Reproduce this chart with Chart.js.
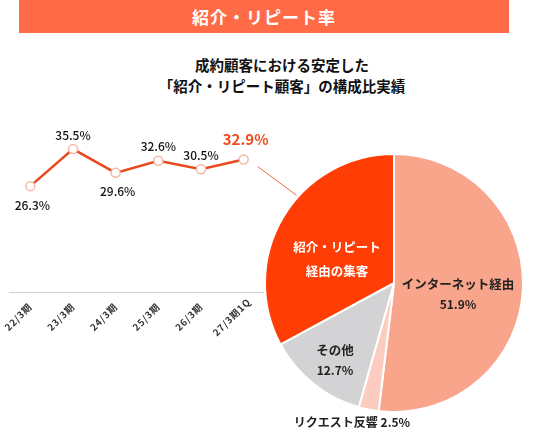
<!DOCTYPE html>
<html lang="ja">
<head>
<meta charset="utf-8">
<script src="https://cdn.jsdelivr.net/npm/chart.js@4"></script>
<style>
  html, body { margin: 0; padding: 0; background: #fff; }
  body { width: 536px; height: 432px; position: relative; overflow: hidden; font-family: "Noto Sans CJK JP", "Noto Sans", sans-serif; }
  .banner { position: absolute; left: 19px; top: 0; width: 490px; height: 33px; background: #ff6b47; color: #fff; font-weight: 700; font-size: 17px; line-height: 33px; text-align: center; letter-spacing: 1px; }
  .sub { position: absolute; left: 157px; top: 54px; width: 250px; text-align: center; font-weight: 700; font-size: 14.5px; line-height: 21px; color: #111; }
  canvas { position: absolute; left: 0; top: 0; }
</style>
</head>
<body>
<div class="banner">紹介・リピート率</div>
<div class="sub">成約顧客における安定した<br>「紹介・リピート顧客」の構成比実績</div>
<canvas id="lineChart" width="536" height="432"></canvas>
<canvas id="pieChart" width="536" height="432"></canvas>
<script>
// data
const periods = ["22/3期", "23/3期", "24/3期", "25/3期", "26/3期", "27/3期1Q"];
const rates = [26.3, 35.5, 29.6, 32.6, 30.5, 32.9];
const labelBelow = [true, false, true, false, false, false];

const shareLabels = ["インターネット経由", "リクエスト反響", "その他", "紹介・リピート経由の集客"];
const shares = [51.9, 2.5, 12.7, 32.9];
const shareColors = ["#f9a58c", "#fbccbf", "#d3d3d5", "#ff3d05"];

const FONT = '"Noto Sans CJK JP", "Noto Sans", sans-serif';
let lineChart;

// value labels on the line + slanted period labels under the axis
const pointLabels = {
  id: "pointLabels",
  afterDatasetsDraw(chart) {
    const { ctx } = chart;
    const meta = chart.getDatasetMeta(0);
    ctx.save();
    ctx.textAlign = "center";
    meta.data.forEach((pt, i) => {
      const last = i === rates.length - 1;
      ctx.fillStyle = last ? "#ef4a1f" : "#111";
      ctx.font = (last ? "700 15px " : "500 12px ") + FONT;
      const txt = rates[i].toFixed(1) + "%";
      if (labelBelow[i]) {
        ctx.textBaseline = "top";
        ctx.fillText(txt, pt.x + 2, pt.y + 13);
      } else {
        ctx.textBaseline = "bottom";
        ctx.fillText(txt, pt.x + (last ? 2 : 0), pt.y - (last ? 13 : 8));
      }
    });
    ctx.restore();
  },
  afterDraw(chart) {
    const { ctx } = chart;
    const xs = chart.scales.x;
    ctx.save();
    ctx.fillStyle = "#333";
    ctx.font = "700 9.5px " + FONT;
    ctx.letterSpacing = "0.8px";
    ctx.textAlign = "center";
    ctx.textBaseline = "middle";
    periods.forEach((p, i) => {
      const x = xs.getPixelForTick(i);
      ctx.save();
      ctx.translate(x - 12, xs.top + 25);
      ctx.rotate(-Math.PI / 4);
      ctx.fillText(p, 0, 0);
      ctx.restore();
    });
    ctx.restore();
  }
};

lineChart = new Chart(document.getElementById("lineChart"), {
  type: "line",
  data: {
    labels: periods,
    datasets: [{
      data: rates,
      borderColor: "#e8491d",
      borderWidth: 2.5,
      pointRadius: 4.5,
      pointBackgroundColor: "#fff",
      pointBorderColor: "#f6b7a8",
      pointBorderWidth: 1.5,
      tension: 0
    }]
  },
  options: {
    responsive: false,
    animation: false,
    layout: { padding: { left: 9, right: 271, top: 131, bottom: 95 } },
    plugins: { legend: { display: false }, tooltip: { enabled: false } },
    scales: {
      y: { display: false, min: 0, max: 40 },
      x: {
        offset: true,
        grid: { display: false },
        border: { display: true, color: "#cfcfcf", width: 1 },
        afterFit: (scale) => { scale.height = 45; },
        ticks: { display: false }
      }
    }
  },
  plugins: [pointLabels]
});

// labels inside / around the pie and the leader line from the last point
const pieDecor = {
  id: "pieDecor",
  beforeDatasetsDraw(chart) {
    const { ctx } = chart;
    const arc = chart.getDatasetMeta(0).data[3];
    const pt = lineChart.getDatasetMeta(0).data[rates.length - 1];
    const ang = -138 * Math.PI / 180;
    ctx.save();
    ctx.strokeStyle = "#ef6a45";
    ctx.lineWidth = 1;
    ctx.beginPath();
    ctx.moveTo(pt.x + 14, pt.y + 7);
    ctx.lineTo(arc.x + Math.cos(ang) * (arc.outerRadius + 2), arc.y + Math.sin(ang) * (arc.outerRadius + 2));
    ctx.stroke();
    ctx.restore();
  },
  afterDatasetsDraw(chart) {
    const { ctx } = chart;
    const arcs = chart.getDatasetMeta(0).data;
    const cx = arcs[0].x, cy = arcs[0].y;
    ctx.save();
    ctx.textAlign = "center";
    ctx.textBaseline = "middle";
    ctx.font = "700 12.5px " + FONT;
    // インターネット経由
    ctx.fillStyle = "#222";
    ctx.fillText(shareLabels[0], cx + 64, cy + 1);
    ctx.font = "700 12px " + FONT;
    ctx.fillText(shares[0].toFixed(1) + "%", cx + 64, cy + 21);
    // 紹介・リピート
    ctx.fillStyle = "#fff";
    ctx.font = "700 12.5px " + FONT;
    ctx.fillText("紹介・リピート", cx - 57, cy - 36);
    ctx.fillText("経由の集客", cx - 57, cy - 12);
    // その他
    ctx.fillStyle = "#222";
    ctx.fillText(shareLabels[2], cx - 59, cy + 67);
    ctx.font = "700 12px " + FONT;
    ctx.fillText(shares[2].toFixed(1) + "%", cx - 59, cy + 87);
    // リクエスト反響
    ctx.font = "700 12px " + FONT;
    ctx.fillText(shareLabels[1] + " " + shares[1].toFixed(1) + "%", cx - 42, cy + 139);
    ctx.restore();
  }
};

new Chart(document.getElementById("pieChart"), {
  type: "pie",
  data: {
    labels: shareLabels,
    datasets: [{
      data: shares,
      backgroundColor: shareColors,
      borderColor: "#fff",
      borderWidth: 2
    }]
  },
  options: {
    responsive: false,
    animation: false,
    layout: { padding: { left: 264, top: 153, right: 12, bottom: 19 } },
    plugins: { legend: { display: false }, tooltip: { enabled: false } }
  },
  plugins: [pieDecor]
});
</script>
</body>
</html>
